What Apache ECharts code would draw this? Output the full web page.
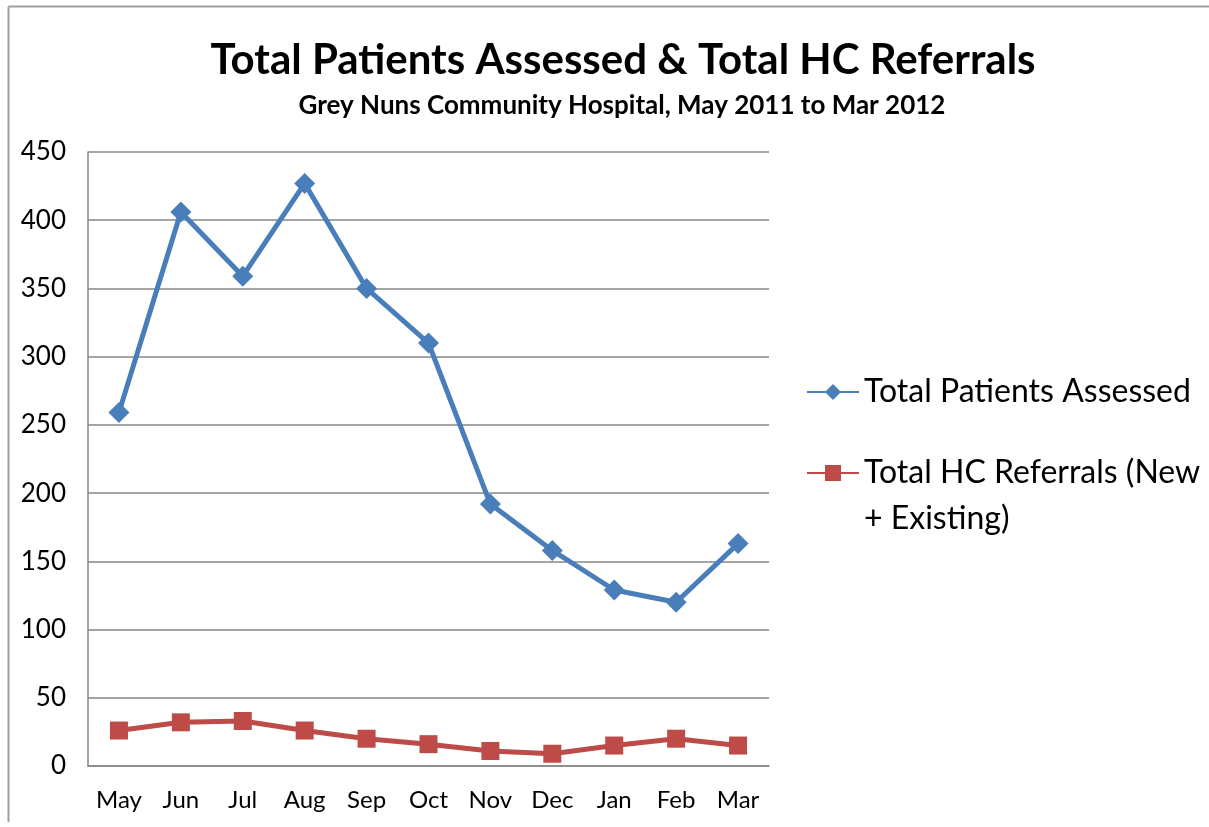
<!DOCTYPE html>
<html>
<head>
<meta charset="utf-8">
<script src="https://cdn.jsdelivr.net/npm/echarts@6/dist/echarts.min.js"></script>
<style>
  html, body { margin: 0; padding: 0; background: #fff; }
  #chart { width: 1209px; height: 827px; }
</style>
</head>
<body>
<div id="chart"></div>
<script>
const months = ['May', 'Jun', 'Jul', 'Aug', 'Sep', 'Oct', 'Nov', 'Dec', 'Jan', 'Feb', 'Mar'];
const patientsAssessed = [259, 406, 359, 427, 350, 310, 192, 158, 129, 120, 163];
const hcReferrals = [26, 32, 33, 26, 20, 16, 11, 9, 15, 20, 15];

const chart = echarts.init(document.getElementById('chart'));
const font = 'Lato, "Open Sans", sans-serif';

const legendText = { fontFamily: font, fontSize: 32, color: '#000' };

const option = {
  backgroundColor: '#fff',
  animation: false,
  title: [
    {
      text: 'Total Patients Assessed & Total HC Referrals',
      left: 618, top: 34, textAlign: 'center',
      textStyle: { fontFamily: font, fontSize: 42, fontWeight: 'bold', color: '#000' }
    },
    {
      text: 'Grey Nuns Community Hospital, May 2011 to Mar 2012',
      left: 617, top: 88, textAlign: 'center',
      textStyle: { fontFamily: font, fontSize: 26, fontWeight: 'bold', color: '#000' }
    }
  ],
  graphic: [
    { type: 'line', shape: { x1: 8.5, y1: 6.5, x2: 1209, y2: 6.5 }, style: { stroke: '#a0a0a0', lineWidth: 2 } },
    { type: 'line', shape: { x1: 8.5, y1: 6.5, x2: 8.5, y2: 822 }, style: { stroke: '#a0a0a0', lineWidth: 2 } },
    { type: 'text', left: 864, top: 503, style: { text: '+ Existing)', font: '32px ' + font, fill: '#000' } }
  ],
  legend: [
    {
      left: 806, top: 376, padding: 0,
      itemWidth: 52, itemHeight: 20,
      textStyle: legendText,
      data: ['Total Patients Assessed']
    },
    {
      left: 806, top: 457, padding: 0,
      itemWidth: 52, itemHeight: 20,
      textStyle: legendText,
      formatter: function () { return 'Total HC Referrals (New'; },
      data: ['Total HC Referrals (New + Existing)']
    }
  ],
  grid: { left: 88, right: 1209 - 769, top: 152, bottom: 827 - 766, containLabel: false },
  xAxis: {
    type: 'category',
    data: months,
    boundaryGap: true,
    axisLine: { lineStyle: { color: '#868686', width: 1.5 } },
    axisTick: { show: false },
    axisLabel: { fontFamily: font, fontSize: 24, color: '#000', margin: 22 }
  },
  yAxis: {
    type: 'value',
    min: 0, max: 450, interval: 50,
    axisLine: { show: true, lineStyle: { color: '#868686', width: 1.5 } },
    axisTick: { show: false },
    axisLabel: { fontFamily: font, fontSize: 26, color: '#000', margin: 22 },
    splitLine: { lineStyle: { color: '#868686', width: 1.5 } }
  },
  series: [
    {
      name: 'Total Patients Assessed',
      type: 'line',
      data: patientsAssessed,
      symbol: 'diamond', symbolSize: 21,
      lineStyle: { color: '#4a7ebb', width: 5 },
      itemStyle: { color: '#4a7ebb' }
    },
    {
      name: 'Total HC Referrals (New + Existing)',
      type: 'line',
      data: hcReferrals,
      symbol: 'rect', symbolSize: 18,
      lineStyle: { color: '#be4b48', width: 5 },
      itemStyle: { color: '#be4b48' }
    }
  ]
};

chart.setOption(option);
</script>
</body>
</html>
